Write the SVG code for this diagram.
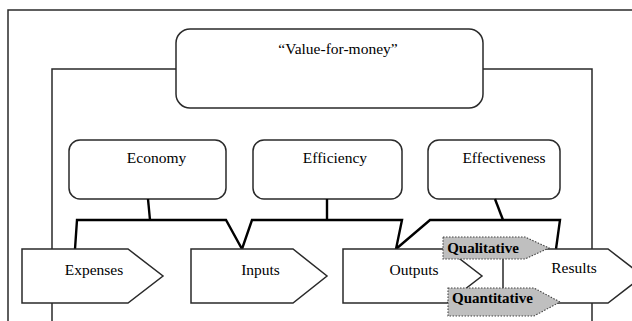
<svg xmlns="http://www.w3.org/2000/svg" width="632" height="321" viewBox="0 0 632 321">
<style>
.frame{fill:none;stroke:#2a2a2a;stroke-width:1.5}
.box{fill:#fff;stroke:#2a2a2a;stroke-width:1.5}
.conn{fill:none;stroke:#000;stroke-width:2.4;stroke-linejoin:miter}
.tag{fill:#bfbfbf;stroke:#444;stroke-width:1.1;stroke-dasharray:1.5 1.5}
text{font-family:'Liberation Serif','DejaVu Serif','Times New Roman',serif;font-size:15.5px;fill:#000;text-anchor:middle}
.b{font-weight:bold;font-size:15px}
</style>
<rect width="632" height="321" fill="#fff"/>
<g id="frames">
<path class="frame" d="M8,321 V10 H632"/>
<path class="frame" d="M52,321 V69 H592 V321"/>
</g>
<g id="value-for-money">
<rect class="box" x="176" y="29" width="307" height="79" rx="14"/>
<text x="338" y="54">“Value-for-money”</text>
</g>
<g id="economy">
<rect class="box" x="69" y="140" width="157" height="59" rx="11"/>
<text x="156.5" y="163">Economy</text>
</g>
<g id="efficiency">
<rect class="box" x="253" y="140" width="149" height="59" rx="11"/>
<text x="335" y="163">Efficiency</text>
</g>
<g id="effectiveness">
<rect class="box" x="428" y="140" width="132" height="59" rx="11"/>
<text x="504" y="163">Effectiveness</text>
</g>
<g id="connectors">
<path class="conn" d="M148,199 L150,220"/>
<path class="conn" d="M327,199 V220"/>
<path class="conn" d="M495,199 L503,220"/>
<path class="conn" d="M75,249 L77,220 H226 L242,249 L252,220 H402 L396,249 L430,220 H560 L556,249"/>
</g>
<g id="expenses">
<path class="box" d="M22,249 H128 L163,276 L128,303 H22 Z"/>
<text x="94" y="275">Expenses</text>
</g>
<g id="inputs">
<path class="box" d="M191,249 H293 L327,276 L293,303 H191 Z"/>
<text x="260.5" y="275">Inputs</text>
</g>
<g id="results">
<path class="box" d="M503,249 H608 L643,276 L608,303 H503 Z"/>
<text x="574" y="273">Results</text>
</g>
<g id="outputs">
<path class="box" d="M343,249 H447 L482,276 L447,303 H343 Z"/>
<text x="414" y="275">Outputs</text>
</g>
<g id="qualitative">
<path class="tag" d="M443,237 H525 L549,248 L525,259 H443 Z"/>
<text class="b" x="483" y="253">Qualitative</text>
</g>
<g id="quantitative">
<path class="tag" d="M448,288 H534 L560,302 L534,316 H448 Z"/>
<text class="b" x="492.5" y="303">Quantitative</text>
</g>
</svg>
